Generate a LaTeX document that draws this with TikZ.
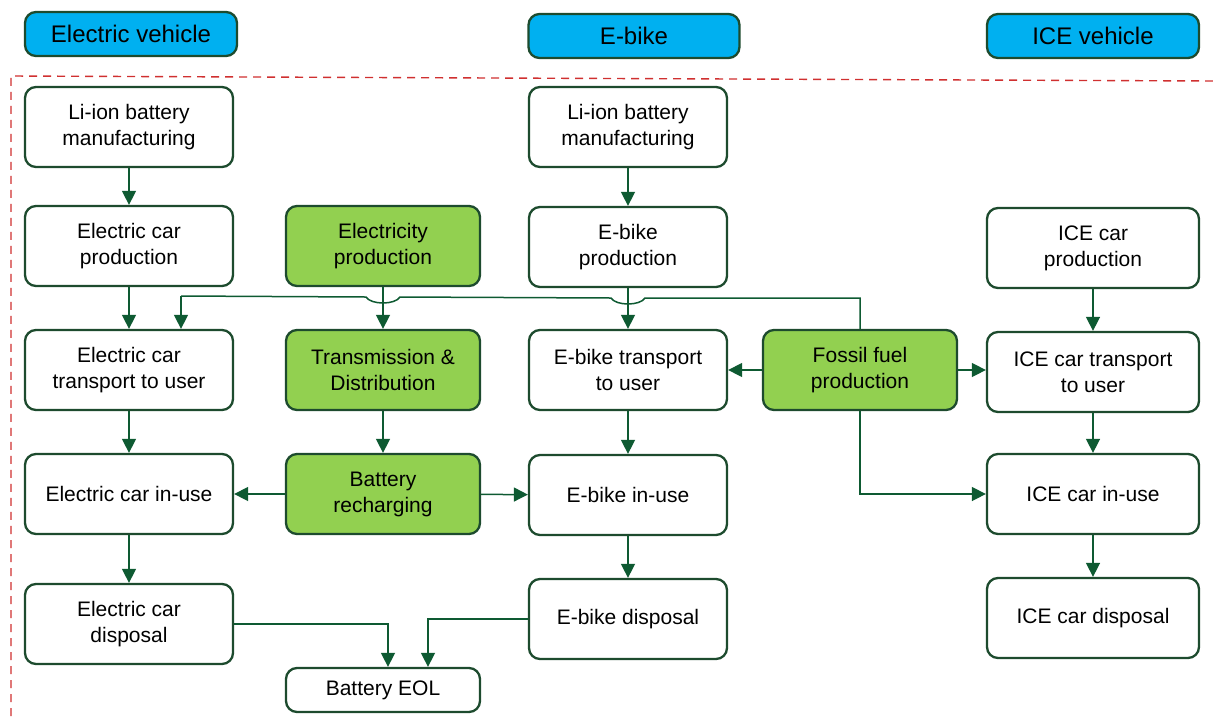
\documentclass[tikz,border=0pt]{standalone}
\usepackage{fontspec}
\setmainfont{Liberation Sans}
\usetikzlibrary{arrows.meta}
\definecolor{ink}{HTML}{000000}
\definecolor{edge}{HTML}{1D4B2E}
\definecolor{flow}{HTML}{0E5A32}
\definecolor{leaf}{HTML}{92D050}
\definecolor{sky}{HTML}{00B0F0}
\definecolor{bound}{HTML}{D03030}

\begin{document}
\begin{tikzpicture}[
  x=1pt,y=-1pt,text=ink,
  arrow/.style={-{Triangle[length=14pt,width=14pt]},draw=flow,line width=1.5pt},
  link/.style={draw=flow,line width=1.5pt},
  box/.style={draw=edge,line width=2.3pt,rounded corners=11pt,fill=white,
    minimum height=80pt,align=center,inner sep=2pt,
    font=\fontsize{21}{26}\selectfont},
  feed/.style={box,fill=leaf},
  head/.style={box,fill=sky,minimum height=44pt,
    font=\fontsize{24}{28}\selectfont}
]
  \useasboundingbox (0,0) rectangle (1213,716);

  % column headings
  \node[head,minimum width=212pt] (ev) at (131,34) {Electric vehicle};
  \node[head,minimum width=211pt] (eb) at (634,36) {E-bike};
  \node[head,minimum width=212pt] (ic) at (1093,36) {ICE vehicle};

  % system boundary
  \draw[draw=bound,line width=1.4pt,dash pattern=on 8pt off 6pt]
    (1213,81) -- (11,76) -- (11,716);

  % electric car chain
  \foreach \n/\y/\t in {
      lia/127/{Li-ion battery\\manufacturing},
      ecp/246/{Electric car\\production},
      ect/370/{Electric car\\transport to user},
      ecu/494/{Electric car in-use},
      ecd/624/{Electric car\\disposal}}
    \node[box,minimum width=208pt] (\n) at (129,\y) {\t};

  % energy supply
  \node[feed,minimum width=194pt] (elp) at (383,246) {Electricity\\production};
  \node[feed,minimum width=194pt] (tnd) at (383,370) {Transmission \&\\Distribution};
  \node[feed,minimum width=194pt] (brc) at (383,494) {Battery\\recharging};
  \node[box,minimum width=194pt,minimum height=44pt] (eol) at (383,690)
    {Battery EOL};
  \node[feed,minimum width=194pt] (ffp) at (860,370) {Fossil fuel\\production};

  % e-bike chain
  \foreach \n/\y/\t in {
      lib/127/{Li-ion battery\\manufacturing},
      ebp/247/{E-bike\\production},
      ebt/370/{E-bike transport\\to user},
      ebu/495/{E-bike in-use},
      ebd/619/{E-bike disposal}}
    \node[box,minimum width=198pt] (\n) at (628,\y) {\t};

  % ICE car chain
  \foreach \n/\y/\t in {
      icp/248/{ICE car\\production},
      ict/372/{ICE car transport\\to user},
      icu/494/{ICE car in-use},
      icd/618/{ICE car disposal}}
    \node[box,minimum width=212pt] (\n) at (1093,\y) {\t};

  % straight flows down each chain
  \foreach \a/\b in {lia/ecp,ecp/ect,ect/ecu,ecu/ecd,
                     elp/tnd,tnd/brc,
                     lib/ebp,ebp/ebt,ebt/ebu,ebu/ebd,
                     icp/ict,ict/icu,icu/icd}
    \draw[arrow] (\a) -- (\b);

  % recharging and fuel supply
  \draw[arrow] (brc) -- (ecu);
  \draw[arrow] (brc) -- (ebu);
  \draw[arrow] (ffp) -- (ebt);
  \draw[arrow] (ffp.east) -- (ffp.east -| ict.west);
  \draw[arrow] (ffp.south) |- (icu.west);

  % fuel to electric car transport, hopping over two flows
  \coordinate (fuelturn) at (ffp.north |- 0,298);
  \coordinate (ecturn) at ([xshift=52pt]ect.north |- 0,296);
  \draw[link] (ffp.north) -- (fuelturn)
    -- ([xshift=17pt]ebp.south |- 0,298)
    .. controls +(-5,8) and +(5,8) .. ([xshift=-17pt]ebp.south |- 0,298)
    -- ([xshift=17pt]tnd.north |- 0,297)
    .. controls +(-5,8) and +(5,8) .. ([xshift=-17pt]tnd.north |- 0,297)
    -- (ecturn);
  \draw[arrow] (ecturn) -- ([xshift=52pt]ect.north);

  % disposal to battery end of life
  \draw[arrow] (ecd.east) -| ([xshift=5pt]eol.north);
  \draw[arrow] (ebd.west) -| ([xshift=45pt]eol.north);
\end{tikzpicture}
\end{document}
